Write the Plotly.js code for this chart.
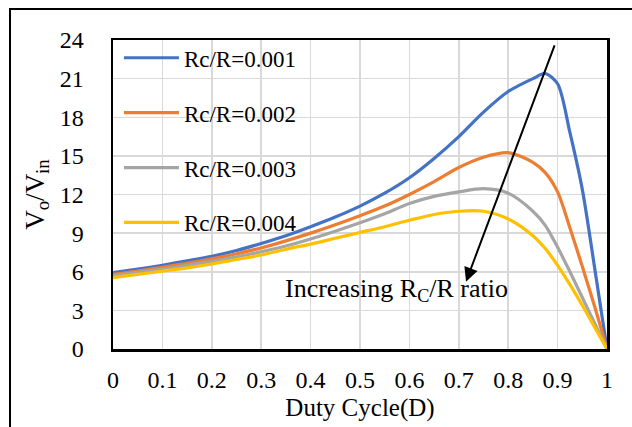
<!DOCTYPE html>
<html>
<head>
<meta charset="utf-8">
<script src="https://cdn.plot.ly/plotly-3.0.1.min.js"></script>
<style>
  html, body { margin: 0; padding: 0; background: #ffffff; }
  #chart { width: 632px; height: 427px; }
</style>
</head>
<body>
<div id="chart"></div>
<script>
// Duty cycle sweep
const duty = [0, 0.05, 0.1, 0.15, 0.2, 0.25, 0.3, 0.35, 0.4, 0.45, 0.5, 0.55, 0.6, 0.65,
              0.7, 0.75, 0.8, 0.85, 0.875, 0.9, 0.925, 0.95, 0.975, 1];

// Voltage gain Vo/Vin for each Rc/R ratio
const gain001 = [5.93, 6.2, 6.5, 6.85, 7.2, 7.65, 8.2, 8.8, 9.5, 10.25, 11.1, 12.1, 13.3, 14.8,
                 16.5, 18.4, 20.0, 21.0, 21.4, 20.6, 16.8, 12.4, 6.3, 0];
const gain002 = [5.8, 6.05, 6.35, 6.65, 7.0, 7.4, 7.85, 8.4, 9.0, 9.65, 10.35, 11.1, 12.0, 13.0,
                 14.1, 14.9, 15.25, 14.5, 13.7, 12.2, 9.4, 6.4, 3.3, 0];
const gain003 = [5.7, 5.95, 6.2, 6.5, 6.8, 7.15, 7.55, 8.0, 8.55, 9.15, 9.8, 10.5, 11.3, 11.85,
                 12.2, 12.45, 12.1, 10.7, 9.6, 7.9, 6.0, 4.0, 2.0, 0];
const gain004 = [5.55, 5.8, 6.05, 6.3, 6.6, 6.95, 7.3, 7.75, 8.15, 8.6, 9.05, 9.5, 10.0, 10.45,
                 10.7, 10.7, 10.1, 8.8, 7.8, 6.5, 5.0, 3.4, 1.7, 0];

const seriesNames = ["Rc/R=0.001", "Rc/R=0.002", "Rc/R=0.003", "Rc/R=0.004"];
const seriesColors = ["#4472C4", "#ED7D31", "#A5A5A5", "#FFC000"];
const seriesValues = [gain001, gain002, gain003, gain004];

const xTicks = [0, 0.1, 0.2, 0.3, 0.4, 0.5, 0.6, 0.7, 0.8, 0.9, 1];
const xTickText = ["0", "0.1", "0.2", "0.3", "0.4", "0.5", "0.6", "0.7", "0.8", "0.9", "1"];
const yTicks = [0, 3, 6, 9, 12, 15, 18, 21, 24];

const serif = "Liberation Serif, Times New Roman, serif";

const traces = seriesValues.map((vals, i) => ({
  x: duty,
  y: vals,
  name: seriesNames[i],
  type: "scatter",
  mode: "lines",
  legendgroup: "g" + i,
  line: { color: seriesColors[i], width: 3.2, shape: "spline", smoothing: 0.8 },
  hoverinfo: "skip"
}));

const axisCommon = {
  showline: true,
  linecolor: "#000000",
  linewidth: 2.5,
  mirror: true,
  showgrid: true,
  gridcolor: "#d9d9d9",
  gridwidth: 1.5,
  zeroline: false,
  ticks: "",
  tickfont: { family: serif, size: 24, color: "#000000" }
};

const layout = {
  width: 632,
  height: 427,
  margin: { l: 113, r: 25, t: 40, b: 78 },
  paper_bgcolor: "#ffffff",
  plot_bgcolor: "#ffffff",
  showlegend: true,
  legend: {
    x: 0.012, y: 1.012, xanchor: "left", yanchor: "top",
    bgcolor: "rgba(0,0,0,0)",
    font: { family: serif, size: 23, color: "#000000" },
    itemwidth: 55,
    tracegroupgap: 22
  },
  xaxis: Object.assign({}, axisCommon, {
    range: [0, 1],
    tickmode: "array",
    tickvals: xTicks,
    ticktext: xTickText,
    ticklabelstandoff: 8,
    title: { text: "Duty Cycle(D)", font: { family: serif, size: 25, color: "#000000" }, standoff: 6 }
  }),
  yaxis: Object.assign({}, axisCommon, {
    range: [0, 24],
    tickmode: "array",
    tickvals: yTicks,
    ticklabelstandoff: 22,
    title: { text: "V<sub>o</sub>/V<sub>in</sub>", font: { family: serif, size: 27, color: "#000000" }, standoff: 8 }
  }),
  annotations: [
    {
      x: 0.573, y: 4.6, xref: "x", yref: "y",
      text: "Increasing R<sub>C</sub>/R ratio",
      showarrow: false,
      font: { family: serif, size: 26, color: "#000000" },
      xanchor: "center", yanchor: "middle"
    },
    {
      x: 0.7146, y: 5.23, xref: "x", yref: "y",
      ax: 0.895, ay: 23.7, axref: "x", ayref: "y",
      text: "",
      showarrow: true,
      arrowhead: 2,
      arrowsize: 1.4,
      arrowwidth: 2,
      arrowcolor: "#000000"
    }
  ],
  shapes: [
    {
      type: "rect", xref: "paper", yref: "paper",
      x0: -0.2085, x1: 1.2, y0: -0.5, y1: 1.1003,
      line: { color: "#000000", width: 2 },
      fillcolor: "rgba(0,0,0,0)",
      layer: "above"
    }
  ]
};

Plotly.newPlot("chart", traces, layout, { displayModeBar: false, staticPlot: true });
</script>
</body>
</html>
